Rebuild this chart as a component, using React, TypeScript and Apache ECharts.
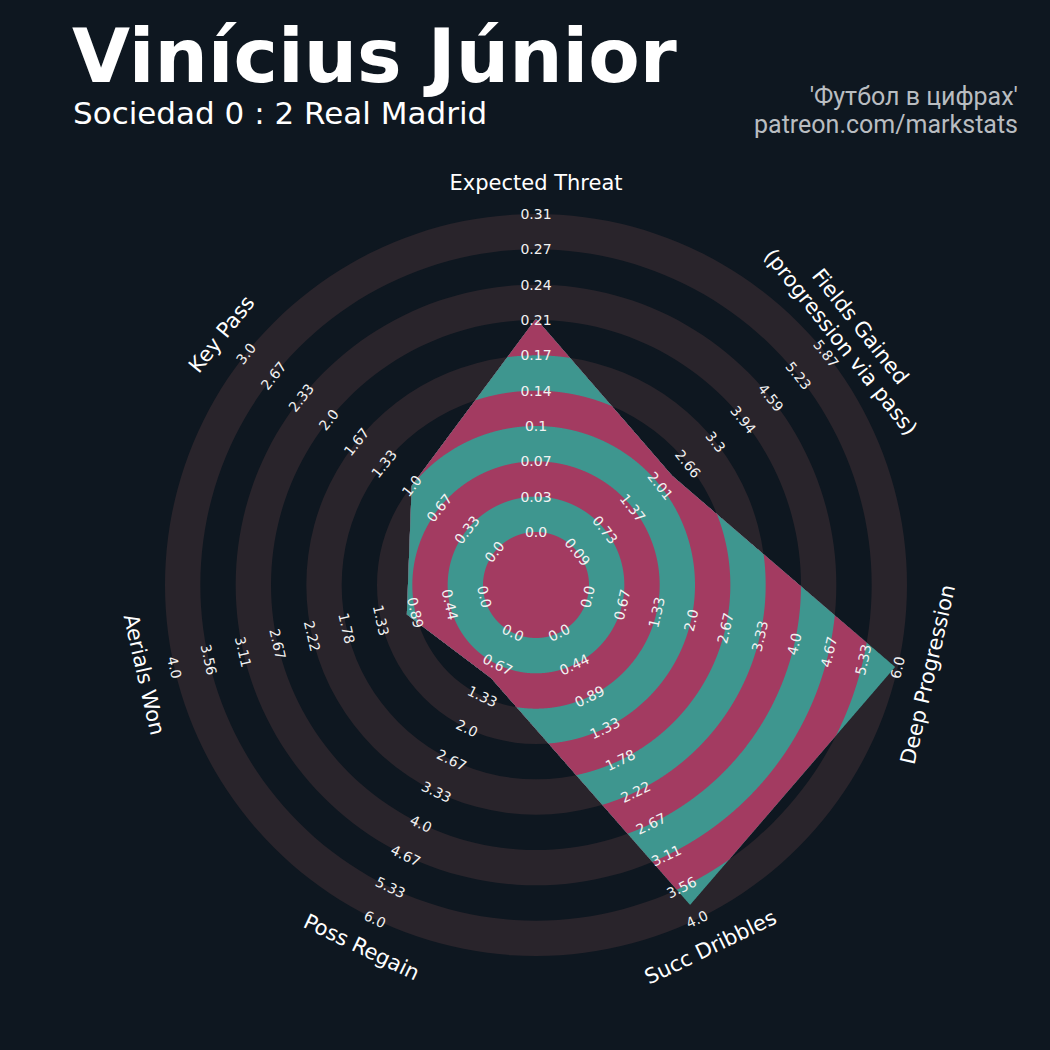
import React, { useEffect, useRef } from 'react';
import * as echarts from 'echarts';

// ---- data ----
const paramNames = [
  'Expected Threat',
  'Fields Gained\n(progression via pass)',
  'Deep Progression',
  'Succ Dribbles',
  'Poss Regain',
  'Aerials Won',
  'Key Pass',
];
const lowValues = [0.0, 0.09, 0.0, 0.0, 0.0, 0.0, 0.0];
const highValues = [0.31, 5.87, 6.0, 4.0, 6.0, 4.0, 3.0];
const playerValues = [0.208, 2.3, 5.95, 3.8, 0.95, 1.0, 1.0];
const rangeLabels = [
  ['0.0', '0.03', '0.07', '0.1', '0.14', '0.17', '0.21', '0.24', '0.27', '0.31'],
  ['0.09', '0.73', '1.37', '2.01', '2.66', '3.3', '3.94', '4.59', '5.23', '5.87'],
  ['0.0', '0.67', '1.33', '2.0', '2.67', '3.33', '4.0', '4.67', '5.33', '6.0'],
  ['0.0', '0.44', '0.89', '1.33', '1.78', '2.22', '2.67', '3.11', '3.56', '4.0'],
  ['0.0', '0.67', '1.33', '2.0', '2.67', '3.33', '4.0', '4.67', '5.33', '6.0'],
  ['0.0', '0.44', '0.89', '1.33', '1.78', '2.22', '2.67', '3.11', '3.56', '4.0'],
  ['0.0', '0.33', '0.67', '1.0', '1.33', '1.67', '2.0', '2.33', '2.67', '3.0'],
];
const titleText = 'Vinícius Júnior';
const subtitleText = 'Sociedad 0 : 2 Real Madrid';
const creditLines = ["'Футбол в цифрах'", 'patreon.com/markstats'];

// ---- styling / geometry constants ----
const BG = '#0e1720';
const RING = '#29242b';
const TEAL = '#3e968f';
const PINK = '#a33b61';
const CENTER_R = 1.5;
const RING_W = 1;
const N_INT = 9;
const OUTER_R = CENTER_R + N_INT * RING_W; // 10.5
const PARAM_R = 11.38;

function angleDeg(i: number) {
  return 90 - (i * 360) / paramNames.length;
}
function textRotation(theta: number) {
  let r = theta - 90;
  while (r > 180) r -= 360;
  while (r <= -180) r += 360;
  if (r > 90) r -= 180;
  if (r < -90) r += 180;
  return (r * Math.PI) / 180;
}
function valueToR(i: number, v: number) {
  const t = (v - lowValues[i]) / (highValues[i] - lowValues[i]);
  return CENTER_R + N_INT * RING_W * Math.min(Math.max(t, 0), 1);
}

function renderRadar(_params: any, api: any) {
  const c = api.coord([0, 0]);
  const unit = api.coord([1, 0])[0] - c[0];
  const children: any[] = [];

  // rings
  for (let k = 0; k < N_INT; k += 2) {
    const r0 = CENTER_R + k * RING_W;
    children.push({
      type: 'ring',
      shape: { cx: c[0], cy: c[1], r0: r0 * unit, r: (r0 + RING_W) * unit },
      style: { fill: RING },
      silent: true,
    });
  }

  // polygon vertices in data units
  const verts = playerValues.map((v, i) => {
    const R = valueToR(i, v);
    const a = (angleDeg(i) * Math.PI) / 180;
    return [R * Math.cos(a), R * Math.sin(a)];
  });
  const S = 400;
  for (let b = 0; b <= N_INT; b++) {
    const Rc = OUTER_R - b * RING_W;
    const color = b % 2 === 0 ? TEAL : PINK;
    const pts: number[][] = [];
    for (let i = 0; i < verts.length; i++) {
      const p0 = verts[i];
      const p1 = verts[(i + 1) % verts.length];
      for (let s = 0; s < S; s++) {
        const t = s / S;
        let x = p0[0] + (p1[0] - p0[0]) * t;
        let y = p0[1] + (p1[1] - p0[1]) * t;
        const d = Math.sqrt(x * x + y * y);
        if (d > Rc) {
          x = (x * Rc) / d;
          y = (y * Rc) / d;
        }
        pts.push(api.coord([x, y]));
      }
    }
    children.push({ type: 'polygon', shape: { points: pts }, style: { fill: color }, silent: true });
  }

  // range labels
  for (let i = 0; i < paramNames.length; i++) {
    const th = angleDeg(i);
    const a = (th * Math.PI) / 180;
    const rot = textRotation(th);
    rangeLabels[i].forEach((lab, k) => {
      const R = CENTER_R + k * RING_W;
      const p = api.coord([R * Math.cos(a), R * Math.sin(a)]);
      children.push({
        type: 'text',
        x: p[0],
        y: p[1],
        rotation: rot,
        silent: true,
        style: {
          text: lab,
          fill: '#f2f2f2',
          font: '14px "DejaVu Sans"',
          align: 'center',
          verticalAlign: 'middle',
          textAlign: 'center',
          textVerticalAlign: 'middle',
        },
      });
    });
    const pp = api.coord([PARAM_R * Math.cos(a), PARAM_R * Math.sin(a)]);
    children.push({
      type: 'text',
      x: pp[0],
      y: pp[1],
      rotation: rot,
      silent: true,
      style: {
        text: paramNames[i],
        fill: '#ffffff',
        font: '21px "DejaVu Sans"',
        lineHeight: 25,
        align: 'center',
        verticalAlign: 'middle',
        textAlign: 'center',
        textVerticalAlign: 'middle',
      },
    });
  }

  return { type: 'group', children };
}

export default function App() {
  const ref = useRef<HTMLDivElement>(null);
  useEffect(() => {
    document.body.style.margin = '0';
    const chart = echarts.init(ref.current!, undefined, { renderer: 'svg' });
    chart.setOption({
      animation: false,
      backgroundColor: BG,
      grid: { left: 165, top: 214, width: 742, height: 742 },
      xAxis: { type: 'value', min: -OUTER_R, max: OUTER_R, show: false },
      yAxis: { type: 'value', min: -OUTER_R, max: OUTER_R, show: false },
      series: [
        {
          type: 'custom',
          coordinateSystem: 'cartesian2d',
          clip: false,
          silent: true,
          data: [[0, 0]],
          renderItem: renderRadar,
        },
      ],
      graphic: [
        {
          type: 'text',
          x: 72,
          y: 56,
          style: {
            text: titleText,
            fill: '#ffffff',
            font: 'bold 75px "DejaVu Sans"',
            lineHeight: 54,
            textAlign: 'left',
            textVerticalAlign: 'middle',
            align: 'left',
            verticalAlign: 'middle',
          },
        },
        {
          type: 'text',
          x: 73,
          y: 113,
          style: {
            text: subtitleText,
            fill: '#ffffff',
            font: '31px "DejaVu Sans"',
            lineHeight: 26,
            textAlign: 'left',
            textVerticalAlign: 'middle',
            align: 'left',
            verticalAlign: 'middle',
          },
        },
        {
          type: 'text',
          x: 1018,
          y: 96,
          style: {
            text: creditLines[0],
            fill: '#b9bdc1',
            font: '25px Roboto',
            lineHeight: 26,
            textAlign: 'right',
            textVerticalAlign: 'middle',
            align: 'right',
            verticalAlign: 'middle',
          },
        },
        {
          type: 'text',
          x: 1018,
          y: 124,
          style: {
            text: creditLines[1],
            fill: '#b9bdc1',
            font: '25px Roboto',
            lineHeight: 26,
            textAlign: 'right',
            textVerticalAlign: 'middle',
            align: 'right',
            verticalAlign: 'middle',
          },
        },
      ],
    });
    return () => chart.dispose();
  }, []);
  return <div ref={ref} style={{ width: 1050, height: 1050 }} />;
}
